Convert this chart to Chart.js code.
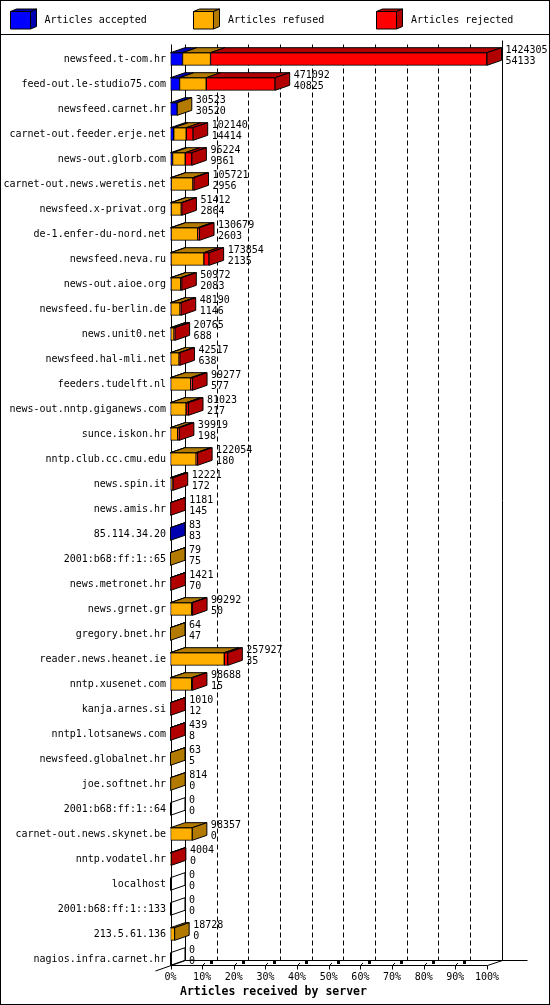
<!DOCTYPE html>
<html>
<head>
<meta charset="utf-8">
<script src="https://cdn.jsdelivr.net/npm/chart.js@4/dist/chart.umd.min.js"></script>
<style>
html,body{margin:0;padding:0;background:#fff;}
canvas{display:block;}
</style>
</head>
<body>
<canvas id="c" width="550" height="1005"></canvas>
<script>
// ---------- DATA ----------
const servers = [
  'newsfeed.t-com.hr','feed-out.le-studio75.com','newsfeed.carnet.hr','carnet-out.feeder.erje.net',
  'news-out.glorb.com','carnet-out.news.weretis.net','newsfeed.x-privat.org','de-1.enfer-du-nord.net',
  'newsfeed.neva.ru','news-out.aioe.org','newsfeed.fu-berlin.de','news.unit0.net',
  'newsfeed.hal-mli.net','feeders.tudelft.nl','news-out.nntp.giganews.com','sunce.iskon.hr',
  'nntp.club.cc.cmu.edu','news.spin.it','news.amis.hr','85.114.34.20',
  '2001:b68:ff:1::65','news.metronet.hr','news.grnet.gr','gregory.bnet.hr',
  'reader.news.heanet.ie','nntp.xusenet.com','kanja.arnes.si','nntp1.lotsanews.com',
  'newsfeed.globalnet.hr','joe.softnet.hr','2001:b68:ff:1::64','carnet-out.news.skynet.be',
  'nntp.vodatel.hr','localhost','2001:b68:ff:1::133','213.5.61.136','nagios.infra.carnet.hr'
];
// total articles received (upper label)
const totals = [
  1424305,471092,30523,102140,96224,105721,51412,130679,
  173854,50972,48190,20765,42517,99277,81023,39919,
  122054,12221,1181,83,79,1421,99292,64,
  257927,98688,1010,439,63,814,0,98357,
  4004,0,0,18728,0
];
// articles accepted (lower label)
const accepted = [
  54133,40825,30520,14414,9361,2956,2864,2603,
  2135,2083,1146,688,638,577,217,198,
  180,172,145,83,75,70,50,47,
  35,15,12,8,5,0,0,0,
  0,0,0,0,0
];
// articles refused
const refused = [
  126000,120000,3,56400,57000,97700,45500,120000,
  148000,44000,41600,15100,37700,90400,69800,32300,
  115000,8000,300,0,4,200,95000,17,
  242000,95400,100,50,58,814,0,98357,
  500,0,0,18728,0
];
// articles rejected = remainder of the total
const rejected = totals.map((t, i) => t - accepted[i] - refused[i]);

const seriesNames = ['Articles accepted', 'Articles refused', 'Articles rejected'];
const frontColors = ['#0000ff', '#ffaf00', '#ff0000'];
const sideColors  = ['#0000b2', '#b27a00', '#b20000'];
const axisTitle = 'Articles received by server';

const maxTotal = Math.max(...totals);
const pct = arr => arr.map(v => v / maxTotal * 100);

// ---------- GEOMETRY ----------
const DX = 14.5, DY = -5, BAR_H = 12.6;
const FONT = '"DejaVu Sans Mono", "Liberation Mono", monospace';

function poly(ctx, pts, fill) {
  ctx.beginPath();
  ctx.moveTo(pts[0][0], pts[0][1]);
  for (let k = 1; k < pts.length; k++) ctx.lineTo(pts[k][0], pts[k][1]);
  ctx.closePath();
  if (fill) { ctx.fillStyle = fill; ctx.fill(); }
  ctx.strokeStyle = '#000'; ctx.lineWidth = 1; ctx.stroke();
}
function line(ctx, x1, y1, x2, y2) {
  ctx.beginPath(); ctx.moveTo(x1, y1); ctx.lineTo(x2, y2); ctx.stroke();
}

const scene3d = {
  id: 'scene3d',
  beforeDatasetsDraw(chart) {
    const ctx = chart.ctx, xs = chart.scales.x, ys = chart.scales.y;
    const x0 = xs.getPixelForValue(0), x100 = xs.getPixelForValue(100);
    const n = servers.length;
    const floorY = Math.round(ys.getPixelForValue(n - 1) + BAR_H / 2) + 0.5;
    const topY = 44.5;
    ctx.save();
    ctx.strokeStyle = '#000'; ctx.lineWidth = 1;
    // dashed grid on the back wall
    ctx.setLineDash([5, 3]);
    for (let v = 10; v < 100; v += 10) {
      const x = Math.round(xs.getPixelForValue(v) + DX) + 0.5;
      line(ctx, x, topY, x, floorY + DY);
    }
    ctx.setLineDash([]);
    const bx0 = Math.round(x0 + DX) + 0.5, bx100 = Math.round(x100 + DX) + 0.5;
    const fx0 = Math.round(x0) + 0.5, fx100 = Math.round(x100) + 0.5;
    // walls
    line(ctx, fx0, topY, fx0, floorY + 3);
    line(ctx, bx0, topY, bx0, floorY + DY);
    line(ctx, bx100, topY - 4, bx100, floorY + DY);
    // floor
    line(ctx, fx0 - 16, floorY + 5.5, bx0, floorY + DY);
    line(ctx, fx0, floorY, fx100, floorY);
    line(ctx, fx100, floorY, bx100, floorY + DY);
    line(ctx, bx0, floorY + DY, bx100 + 25, floorY + DY);
    // ticks on the floor
    ctx.fillStyle = '#000';
    for (let v = 0; v <= 100; v += 10) {
      const x = Math.round(xs.getPixelForValue(v)) + 0.5;
      line(ctx, x, floorY + 4, x, floorY);
      if (v > 0 && v < 100) {
        line(ctx, x, floorY, x + 2.5, floorY - 2.5);
        ctx.fillRect(Math.round(x + 7), floorY - 4.5, 3, 3);
      }
    }
    ctx.restore();
  },
  afterDatasetsDraw(chart) {
    const ctx = chart.ctx, xs = chart.scales.x;
    const x0 = xs.getPixelForValue(0);
    const n = servers.length;
    const ds = chart.data.datasets;
    ctx.save();
    ctx.font = '10px ' + FONT;
    for (let i = 0; i < n; i++) {
      const e0 = chart.getDatasetMeta(0).data[i];
      const yc = e0.y, h = e0.height;
      const yT = yc - h / 2, yB = yc + h / 2;
      let last = -1;
      for (let d = 0; d < ds.length; d++) {
        if (ds[d].data[i] > 0) {
          last = d;
          const el = chart.getDatasetMeta(d).data[i];
          poly(ctx, [[el.base, yT], [el.x, yT], [el.x + DX, yT + DY], [el.base + DX, yT + DY]], sideColors[d]);
        }
      }
      let endX;
      if (last >= 0) {
        endX = chart.getDatasetMeta(last).data[i].x;
        poly(ctx, [[endX, yT], [endX + DX, yT + DY], [endX + DX, yB + DY], [endX, yB]], sideColors[last]);
      } else {
        endX = x0;
        poly(ctx, [[endX, yT], [endX + DX, yT + DY], [endX + DX, yB + DY], [endX, yB]], null);
      }
      ctx.fillStyle = '#000';
      ctx.textAlign = 'left';
      ctx.textBaseline = 'middle';
      ctx.fillText(String(totals[i]), endX + DX + 4, yc - 8.7);
      ctx.fillText(String(accepted[i]), endX + DX + 4, yc + 2.5);
    }
    ctx.restore();
  },
  afterDraw(chart) {
    const ctx = chart.ctx;
    ctx.save();
    ctx.strokeStyle = '#000'; ctx.lineWidth = 1;
    // outer frame and legend separator
    ctx.strokeRect(0.5, 0.5, 549, 1004);
    line(ctx, 0, 34.5, 550, 34.5);
    // legend
    const boxX = [10.5, 193.5, 376.5], textX = [44.5, 228, 411];
    const lw = 20, lh = 17.5, ly = 11.5, ldx = 6, ldy = -2.5;
    ctx.font = '10px ' + FONT;
    ctx.textAlign = 'left'; ctx.textBaseline = 'middle';
    chart.data.datasets.forEach((d, k) => {
      const x = boxX[k];
      poly(ctx, [[x, ly], [x + lw, ly], [x + lw + ldx, ly + ldy], [x + ldx, ly + ldy]], sideColors[k]);
      poly(ctx, [[x + lw, ly], [x + lw + ldx, ly + ldy], [x + lw + ldx, ly + lh + ldy], [x + lw, ly + lh]], sideColors[k]);
      poly(ctx, [[x, ly], [x + lw, ly], [x + lw, ly + lh], [x, ly + lh]], frontColors[k]);
      ctx.fillStyle = '#000';
      ctx.fillText(d.label, textX[k], 20.5);
    });
    // axis title
    ctx.font = 'bold 11.5px ' + FONT;
    ctx.fillText(axisTitle, 180, 992);
    ctx.restore();
  }
};

const datasets = seriesNames.map((name, k) => ({
  label: name,
  data: pct([accepted, refused, rejected][k]),
  backgroundColor: frontColors[k],
  borderColor: '#000',
  borderWidth: 1,
  borderSkipped: false,
  barThickness: BAR_H
}));

new Chart(document.getElementById('c'), {
  type: 'bar',
  data: { labels: servers, datasets },
  options: {
    indexAxis: 'y',
    responsive: false,
    animation: false,
    devicePixelRatio: 1,
    layout: { padding: { top: 46.5, right: 63, bottom: 0, left: 0 } },
    plugins: { legend: { display: false }, tooltip: { enabled: false }, title: { display: false } },
    scales: {
      x: {
        type: 'linear', stacked: true, min: 0, max: 100,
        grid: { display: false, drawTicks: false },
        border: { display: false },
        ticks: {
          stepSize: 10, padding: 0, color: '#000', maxRotation: 0, autoSkip: false,
          font: { family: FONT, size: 10 },
          callback: v => v + '%'
        },
        afterFit: s => { s.height = 33.5; }
      },
      y: {
        stacked: true,
        grid: { display: false, drawTicks: false },
        border: { display: false },
        ticks: { padding: 4.5, color: '#000', autoSkip: false, font: { family: FONT, size: 10 } },
        afterFit: s => { s.width = 170.5; }
      }
    }
  },
  plugins: [scene3d]
});
</script>
</body>
</html>
